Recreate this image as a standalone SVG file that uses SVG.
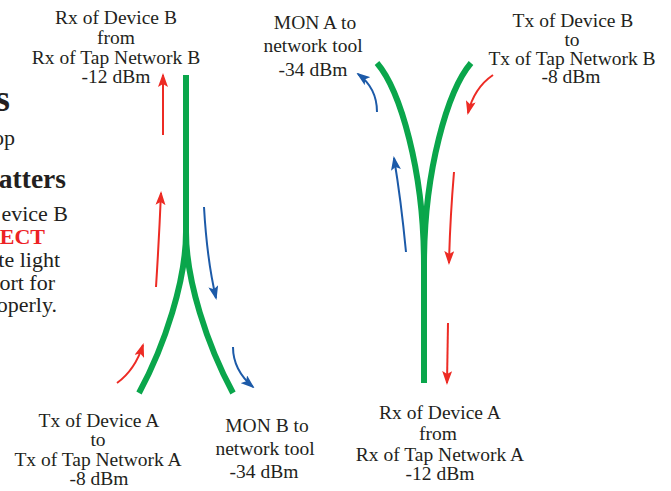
<svg xmlns="http://www.w3.org/2000/svg" width="671" height="491" viewBox="0 0 671 491">
<style>
.t{font-family:"Liberation Serif","Times New Roman",serif;font-size:19.5px;fill:#231f20;text-anchor:middle}
.b{font-family:"Liberation Serif","Times New Roman",serif;font-size:22px;fill:#231f20;text-anchor:end}
.bold{font-weight:bold}
.red{fill:#ed2224}
.fiber{fill:none;stroke:#0aa64b;stroke-width:6}
.ar{fill:none;stroke:#ed2b24;stroke-width:2}
.ab{fill:none;stroke:#1c5aa8;stroke-width:2}
</style>
<defs>
<marker id="hr" viewBox="0 0 14 10" refX="12" refY="5" markerWidth="14" markerHeight="10" markerUnits="userSpaceOnUse" orient="auto"><path d="M0,0 L14,5 L0,10 L3,5 z" fill="#ed2b24"/></marker>
<marker id="hb" viewBox="0 0 14 10" refX="12" refY="5" markerWidth="14" markerHeight="10" markerUnits="userSpaceOnUse" orient="auto"><path d="M0,0 L14,5 L0,10 L3,5 z" fill="#1c5aa8"/></marker>
</defs>
<rect width="671" height="491" fill="#ffffff"/>
<g id="side-text">
<text class="b bold" x="10" y="111" style="font-size:37px">s</text>
<text class="b" x="15" y="145">op</text>
<text class="b bold" x="66" y="188" style="font-size:27.5px">atters</text>
<text class="b" x="68" y="221">evice B</text>
<text class="b bold red" x="45" y="244">RECT</text>
<text class="b" x="60" y="267">te light</text>
<text class="b" x="55" y="290">ort for</text>
<text class="b" x="57" y="312">operly.</text>
</g>
<g id="label-rx-device-b">
<text class="t" x="116" y="24">Rx of Device B</text>
<text class="t" x="116" y="44">from</text>
<text class="t" x="116" y="64">Rx of Tap Network B</text>
<text class="t" x="116" y="83">-12 dBm</text>
</g>
<g id="label-mon-a">
<text class="t" x="315" y="29">MON A to</text>
<text class="t" x="313" y="52">network tool</text>
<text class="t" x="313" y="76">-34 dBm</text>
</g>
<g id="label-tx-device-b">
<text class="t" x="573" y="27">Tx of Device B</text>
<text class="t" x="572" y="46">to</text>
<text class="t" x="572" y="65">Tx of Tap Network B</text>
<text class="t" x="571" y="83">-8 dBm</text>
</g>
<g id="label-tx-device-a">
<text class="t" x="99" y="427">Tx of Device A</text>
<text class="t" x="98" y="446">to</text>
<text class="t" x="98" y="466">Tx of Tap Network A</text>
<text class="t" x="99" y="485">-8 dBm</text>
</g>
<g id="label-mon-b">
<text class="t" x="267" y="432">MON B to</text>
<text class="t" x="265" y="455">network tool</text>
<text class="t" x="264" y="478">-34 dBm</text>
</g>
<g id="label-rx-device-a">
<text class="t" x="440" y="419">Rx of Device A</text>
<text class="t" x="438" y="440">from</text>
<text class="t" x="440" y="461">Rx of Tap Network A</text>
<text class="t" x="440" y="480">-12 dBm</text>
</g>
<g id="connectors">
<path class="fiber" d="M186,75 L186,240"/>
<path class="fiber" d="M186,232 C186,280 165,345 139,393"/>
<path class="fiber" d="M186,232 C186,280 207,345 233,393"/>
<path class="fiber" d="M377,63 C400,90 424,170 424,265"/>
<path class="fiber" d="M471,63 C448,90 424,170 424,265"/>
<path class="fiber" d="M424,230 L424,383"/>
<path class="ar" marker-end="url(#hr)" d="M163,135 L163,75"/>
<path class="ar" marker-end="url(#hr)" d="M156,287 Q159,240 161,193"/>
<path class="ar" marker-end="url(#hr)" d="M117,383 Q135,370 143,345"/>
<path class="ab" marker-end="url(#hb)" d="M204,207 Q207,260 216,298"/>
<path class="ab" marker-end="url(#hb)" d="M233,347 Q233,370 253,387"/>
<path class="ab" marker-end="url(#hb)" d="M377,112 Q377,88 358,74"/>
<path class="ab" marker-end="url(#hb)" d="M406,252 Q401,200 394,158"/>
<path class="ar" marker-end="url(#hr)" d="M493,75 Q474,88 468,113"/>
<path class="ar" marker-end="url(#hr)" d="M454,172 Q450,220 449,263"/>
<path class="ar" marker-end="url(#hr)" d="M448,323 L447,383"/>
</g>
</svg>
